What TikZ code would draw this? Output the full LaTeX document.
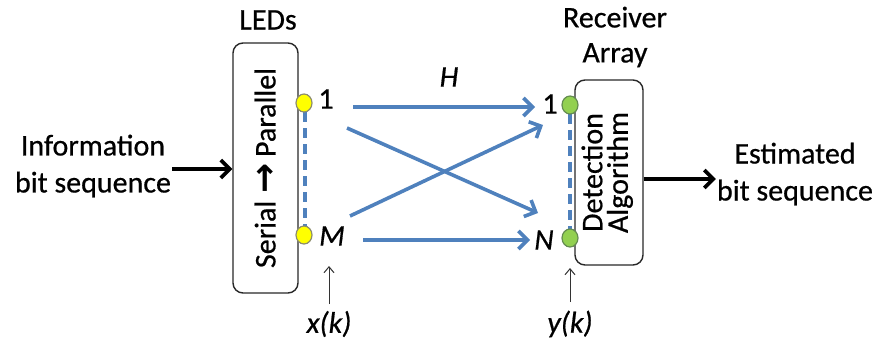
\documentclass[tikz,border=0pt]{standalone}
\usepackage{fontspec}
\setmainfont{Carlito}[FakeBold=0.6]
\newfontfamily\symfont{DejaVu Sans}
\usetikzlibrary{arrows.meta,shapes.geometric}
\definecolor{linkblue}{RGB}{79,129,189}
\definecolor{ledyellow}{RGB}{255,255,0}
\definecolor{ledrim}{RGB}{140,140,110}
\definecolor{rxgreen}{RGB}{146,208,80}
\definecolor{rxrim}{RGB}{100,140,80}
\definecolor{boxrim}{RGB}{40,40,40}
\tikzset{
  blockbox/.style={draw=boxrim, line width=1.4pt, rounded corners=10pt, fill=white, inner sep=0pt},
  plaintext/.style={font=\fontsize{30}{37}\selectfont, align=center, inner sep=1pt},
  idxlabel/.style={font=\fontsize{30}{32}\selectfont\itshape, inner sep=0pt},
  numlabel/.style={font=\fontsize{30}{32}\selectfont, inner sep=0pt},
  leddot/.style={ellipse, draw=ledrim, line width=1.2pt, fill=ledyellow, minimum width=16pt, minimum height=18pt, inner sep=0pt},
  rxdot/.style={ellipse, draw=rxrim, line width=1.2pt, fill=rxgreen, minimum width=16pt, minimum height=18pt, inner sep=0pt},
  channel/.style={draw=linkblue, line width=3.6pt, -{Straight Barb[length=9pt,width=18pt,line width=3.6pt]}},
  bigarrow/.style={draw=black, line width=3.6pt, -{Straight Barb[length=9pt,width=18pt,line width=3.6pt]}},
  thinarrow/.style={draw=black!80, line width=1pt, -{Straight Barb[length=6pt,width=10pt,line width=1pt]}},
  dashlink/.style={draw=linkblue, line width=3.2pt, dash pattern=on 10pt off 6pt}
}
\begin{document}
\begin{tikzpicture}[x=1pt,y=-1pt]
\useasboundingbox (0,0) rectangle (875,343);

% processing blocks
\node[blockbox, minimum width=65pt, minimum height=250pt] (sp) at (265.5,168)
  {\rotatebox{90}{\fontsize{30}{36}\selectfont Serial {\symfont\bfseries\fontsize{36}{30}\selectfont\raisebox{-1pt}{→}} Parallel}};
\node[blockbox, minimum width=68pt, minimum height=185pt] (det) at (609,172.5)
  {\rotatebox{90}{\fontsize{30}{29}\selectfont\begin{tabular}{@{}c@{}}Detection\\[-4pt]Algorithm\end{tabular}}};

% titles
\node[plaintext] (leds) at (268,20) {LEDs};
\node[plaintext, font=\fontsize{30}{35}\selectfont] (rx) at (615,37) {Receiver\\Array};
\node[plaintext] (info) at (93,166) {Information\\bit sequence};
\node[plaintext] (est) at (795,174) {Estimated\\bit sequence};

% input and output
\draw[bigarrow] (info.east |- 0,169) -- (sp.west |- 0,169);
\draw[bigarrow] (det.east |- 0,179) -- (est.west |- 0,179);

% transmitter and receiver elements
\draw[dashlink] (305,112) -- (305,226);
\draw[dashlink] (570,114) -- (570,229);
\node[leddot] (tx1) at (304,103) {};
\node[leddot] (txM) at (304,235) {};
\node[rxdot] (rx1) at (570,105) {};
\node[rxdot] (rxN) at (570,238) {};

\node[numlabel] (l1) at (326,99) {1};
\node[idxlabel] (lM) at (332,236) {M};
\node[numlabel] (r1) at (550,104) {1};
\node[idxlabel] (rN) at (544,240) {N};
\node[idxlabel] (lH) at (449,77) {H};

% channel links
\coordinate (a1) at (353,107);  \coordinate (b1) at (535,107);
\coordinate (a2) at (347,128);  \coordinate (b2) at (538,213);
\coordinate (a3) at (350,216);  \coordinate (b3) at (543,125);
\coordinate (a4) at (363,240);  \coordinate (b4) at (530,240);
\draw[channel] (a1) -- (b1);
\draw[channel] (a2) -- (b2);
\draw[channel] (a3) -- (b3);
\draw[channel] (a4) -- (b4);

% signal vectors
\node[idxlabel] (xk) at (329,324) {x(k)};
\node[idxlabel] (yk) at (570,324) {y(k)};
\draw[thinarrow] (xk.north |- 0,304) -- (xk.north |- 0,266);
\draw[thinarrow] (yk.north |- 0,302) -- (yk.north |- 0,268);
\end{tikzpicture}
\end{document}
